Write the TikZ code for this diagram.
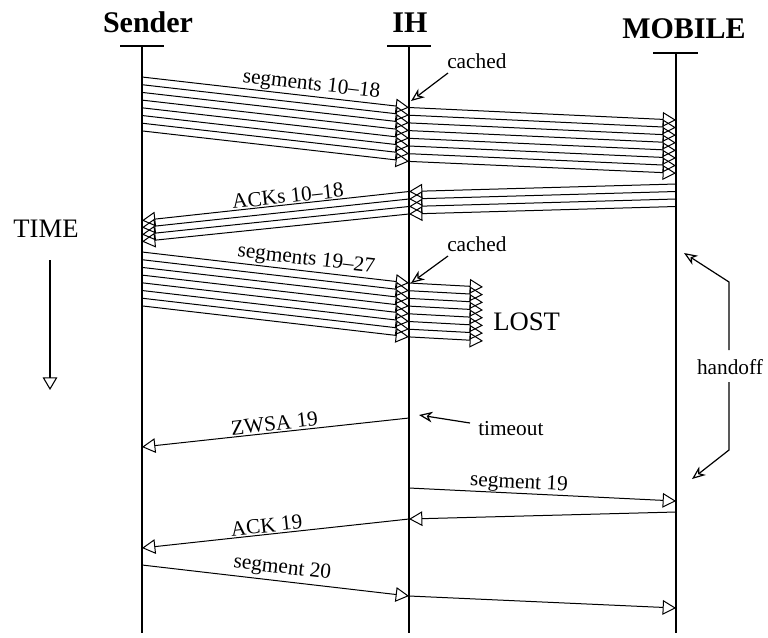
\documentclass[tikz,border=0pt]{standalone}
\usepackage{fontspec}
\setmainfont{Liberation Serif}[Ligatures=TeX]
\usetikzlibrary{arrows.meta}

\begin{document}
\begin{tikzpicture}[
  x=0.75pt, y=-0.75pt,
  head/.style={font=\fontsize{22.5}{27}\selectfont\bfseries, inner sep=0pt, anchor=base},
  lbl/.style={font=\fontsize{16}{19}\selectfont, inner sep=1pt},
  big/.style={font=\fontsize{20}{24}\selectfont, inner sep=0pt},
  life/.style={line width=1.2pt},
  bar/.style={line width=1pt},
  msg/.style={-{Triangle[open, length=10pt, width=11pt]}, line width=0.75pt},
  note/.style={-{Stealth[open, length=10pt, width=8pt, inset=3pt]}, line width=0.9pt},
  tarrow/.style={-{Triangle[open, length=9.5pt, width=11pt]}, line width=0.8pt}
]
\useasboundingbox (0,0) rectangle (768,637);

% lifelines
\node[head] (sender) at (148,32) {Sender};
\node[head] (ih) at (410,32) {IH};
\node[head] (mobile) at (684,38) {MOBILE};
\coordinate (sendtop) at (142,46);
\coordinate (sendbot) at (142,633);
\coordinate (ihtop) at (409,46);
\coordinate (ihbot) at (409,633);
\coordinate (mobtop) at (676,53);
\coordinate (mobbot) at (676,633);
\draw[bar] (120,46) -- (164,46);
\draw[bar] (387,46) -- (431,46);
\draw[bar] (653,53) -- (698,53);
\draw[life] (sendtop) -- (sendbot);
\draw[life] (ihtop) -- (ihbot);
\draw[life] (mobtop) -- (mobbot);

% segments 10-18
\foreach \k in {0,...,7} {
  \coordinate (sa\k) at (142,{77+7.7*\k});
  \coordinate (ia\k) at (409,{107.5+7.7*\k});
  \coordinate (ma\k) at (676,{120+7.6*\k});
  \draw[msg] (sa\k) -- (ia\k);
  \draw[msg] (ia\k) -- (ma\k);
}
\path (sa0) -- node[lbl, above, sloped, pos=0.63] (seglbla) {segments 10--18} (ia0);

% ACKs 10-18
\foreach \k in {0,...,3} {
  \coordinate (mb\k) at (676,{184+7.5*\k});
  \coordinate (ib\k) at (409,{191.5+7.5*\k});
  \coordinate (sb\k) at (142,{220.5+7*\k});
  \draw[msg] (mb\k) -- (ib\k);
  \draw[msg] (ib\k) -- (sb\k);
}
\path (ib0) -- node[lbl, above, sloped, pos=0.45] (acklbla) {ACKs 10--18} (sb0);

% segments 19-27
\foreach \k in {0,...,7} {
  \coordinate (sc\k) at (142,{252+7.7*\k});
  \coordinate (ic\k) at (409,{283+7.7*\k});
  \coordinate (lc\k) at (483,{287+7.7*\k});
  \draw[msg] (sc\k) -- (ic\k);
  \draw[msg] (ic\k) -- (lc\k);
}
\path (sc0) -- node[lbl, above, sloped, pos=0.61] (seglblb) {segments 19--27} (ic0);
\node[big, anchor=base west] (lost) at (493,330) {LOST};

% cached notes
\node[lbl, anchor=base west, inner sep=0pt] (cachea) at (447,68) {cached};
\coordinate (cachea1) at (448,73);
\coordinate (cachea2) at (411,101);
\draw[note] (cachea1) -- (cachea2);
\node[lbl, anchor=base west, inner sep=0pt] (cacheb) at (447,251) {cached};
\coordinate (cacheb1) at (448,256);
\coordinate (cacheb2) at (411,283);
\draw[note] (cacheb1) -- (cacheb2);

% time axis
\node[big, anchor=base] (time) at (46,237) {TIME};
\coordinate (timea) at (50,260);
\coordinate (timeb) at (50,390);
\draw[tarrow] (timea) -- (timeb);

% ZWSA 19 and timeout
\coordinate (zwa) at (409,418);
\coordinate (zwb) at (142,447);
\draw[msg] (zwa) -- node[lbl, above, sloped, pos=0.5] (zwlbl) {ZWSA 19} (zwb);
\node[lbl, anchor=base west, inner sep=0pt] (timeout) at (478,435) {timeout};
\coordinate (toa) at (470,423);
\coordinate (tob) at (419,415);
\draw[note] (toa) -- (tob);

% segment 19
\coordinate (sga) at (409,488);
\coordinate (sgb) at (676,501);
\draw[msg] (sga) -- node[lbl, above, sloped, pos=0.41, inner sep=0pt] (sglbl) {segment 19} (sgb);

% ACK 19
\coordinate (aka) at (676,512);
\coordinate (akb) at (409,519);
\coordinate (akc) at (142,548);
\draw[msg] (aka) -- (akb);
\draw[msg] (akb) -- node[lbl, above, sloped, pos=0.53] (aklbl) {ACK 19} (akc);

% segment 20
\coordinate (sta) at (142,565);
\coordinate (stb) at (409,596);
\coordinate (stc) at (676,608);
\draw[msg] (sta) -- node[lbl, above, sloped, pos=0.52, inner sep=2pt] (stlbl) {segment 20} (stb);
\draw[msg] (stb) -- (stc);

% handoff bracket
\node[lbl, inner sep=0pt] (handoff) at (730,367) {handoff};
\coordinate (hoa) at (729,350);
\coordinate (hob) at (729,282);
\coordinate (hoc) at (684,253);
\coordinate (hod) at (729,382);
\coordinate (hoe) at (729,450);
\coordinate (hof) at (692,479);
\draw[note] (hoa) -- (hob) -- (hoc);
\draw[note] (hod) -- (hoe) -- (hof);
\end{tikzpicture}
\end{document}
